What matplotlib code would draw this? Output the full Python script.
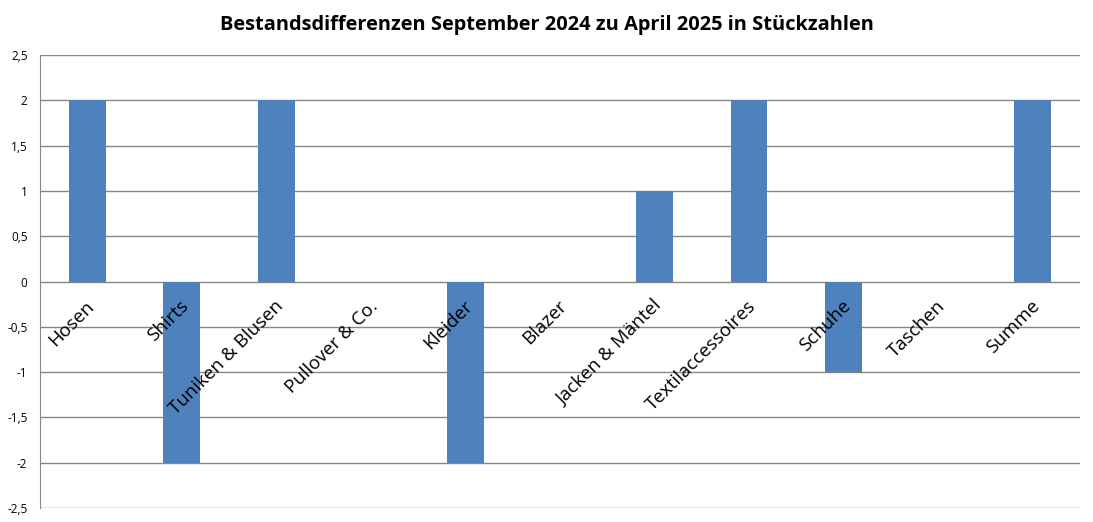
import matplotlib.pyplot as plt
from matplotlib.ticker import FuncFormatter

# data
categories = ['Hosen', 'Shirts', 'Tuniken & Blusen', 'Pullover & Co.', 'Kleider', 'Blazer',
              'Jacken & Mäntel', 'Textilaccessoires', 'Schuhe', 'Taschen', 'Summe']
values = [2, -2, 2, 0, -2, 0, 1, 2, -1, 0, 2]
y_ticks = [-2.5, -2, -1.5, -1, -0.5, 0, 0.5, 1, 1.5, 2, 2.5]

plt.rcParams['font.family'] = ['Open Sans', 'DejaVu Sans']

fig = plt.figure(figsize=(10.93, 5.22), dpi=100)
ax = fig.add_axes([0.0366, 0.0268, 0.9514, 0.8678])

x = list(range(len(categories)))
ax.bar(x, values, width=0.39, color='#4F81BD', zorder=3)

ax.set_xlim(-0.5, len(categories) - 0.5)
ax.set_ylim(-2.5, 2.5)
ax.set_yticks(y_ticks)
ax.yaxis.set_major_formatter(FuncFormatter(lambda v, p: ('%g' % v).replace('.', ',')))
ax.tick_params(axis='y', length=0, labelsize=8.5, pad=9)
ax.grid(axis='y', color='#868686', linewidth=1, zorder=1)

ax.set_xticks([])
for s in ['top', 'right', 'bottom']:
    ax.spines[s].set_visible(False)
ax.spines['left'].set_color('#868686')

# category labels rotated at the zero line
for xi, name in zip(x, categories):
    ax.text(xi - 0.02, -0.17, name, rotation=45, ha='right', va='top',
            rotation_mode='anchor', fontsize=13.5, zorder=4)

fig.suptitle('Bestandsdifferenzen September 2024 zu April 2025 in Stückzahlen',
             fontsize=14.4, fontweight='bold', y=0.972)

fig.savefig('out.png', dpi=100)
